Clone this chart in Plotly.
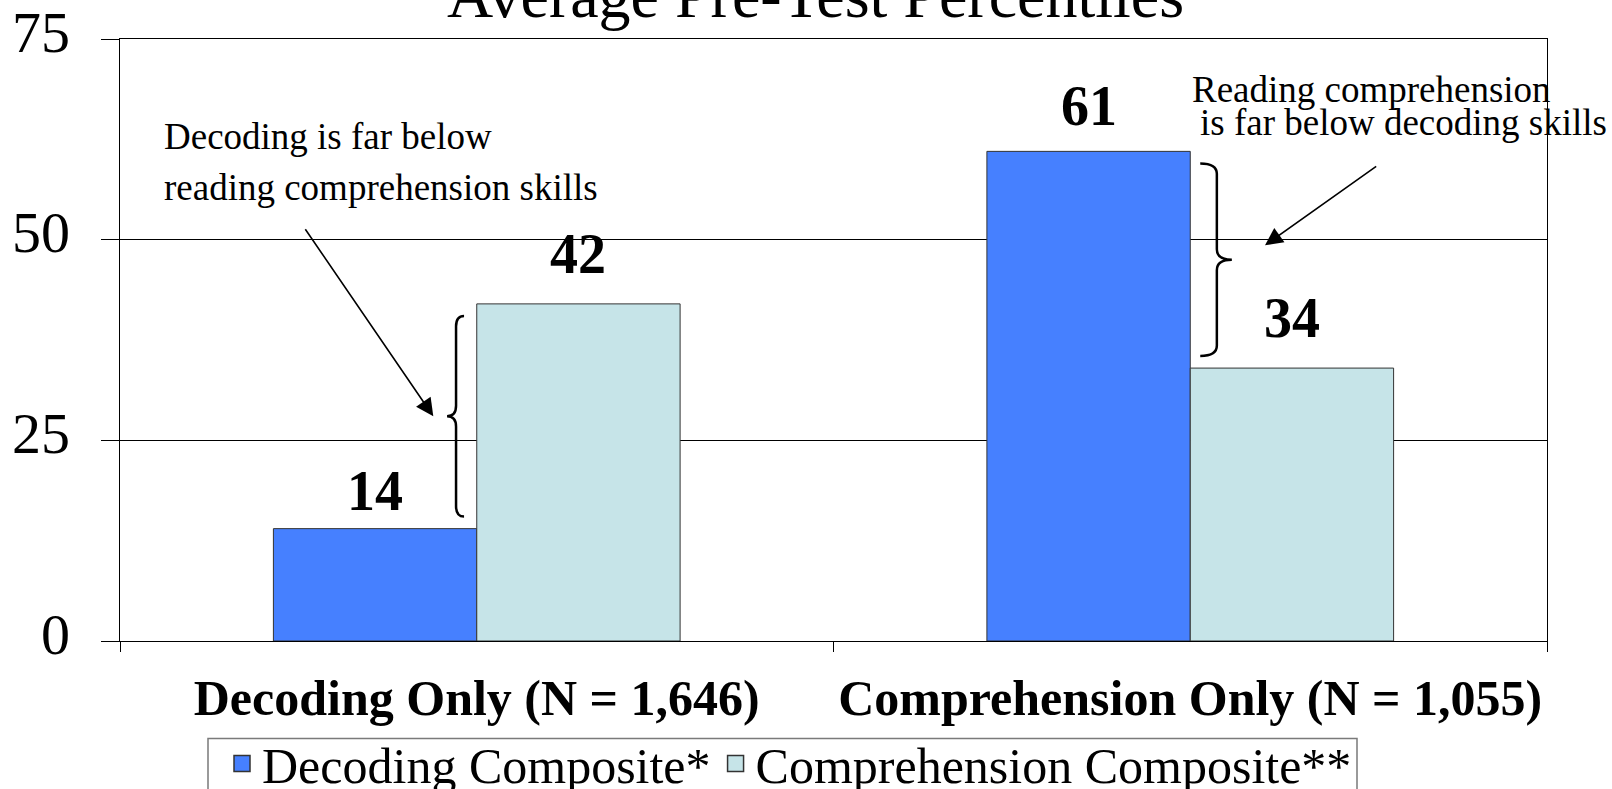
import plotly.graph_objects as go

# ---- data ----
categories = ["Decoding Only (N = 1,646)", "Comprehension Only (N = 1,055)"]
decoding_composite = [14, 61]
comprehension_composite = [42, 34]
series_names = ["Decoding Composite*", "Comprehension Composite**"]
y_ticks = [0, 25, 50, 75]

# ---- styling ----
SERIF = "Times New Roman, Liberation Serif, serif"
BLUE = "#4680FF"
CYAN = "#C6E4E8"
OUTLINE = "#333333"
W, H = 1612, 789
M_L, M_R, M_T, M_B = 120, 65, 39, 147.5
BARGAP = 0.43
Y_MAX = 75

plot_w = W - M_L - M_R
plot_h = H - M_T - M_B
px_per_unit = plot_h / Y_MAX
half = (1 - BARGAP) / 4          # offset of each bar centre from its category centre


def px_to_paper(px):
    return (px - M_L) / plot_w


def py_to_paper(py):
    return (H - M_B - py) / plot_h


fig = go.Figure()
for vals, name, color in [(decoding_composite, series_names[0], BLUE),
                          (comprehension_composite, series_names[1], CYAN)]:
    fig.add_trace(go.Bar(
        x=categories, y=vals, name=name, legendgroup=name, showlegend=False,
        marker=dict(color=color, line=dict(color=OUTLINE, width=1)),
    ))
    # legend swatch (larger square than the default bar icon)
    fig.add_trace(go.Scatter(
        x=[None], y=[None], mode="markers", name=name, legendgroup=name,
        marker=dict(symbol="square", size=18, color=color,
                    line=dict(color=OUTLINE, width=1.5)),
    ))

annotations = []

# y-axis tick labels, sitting slightly above their gridlines
for t in y_ticks:
    annotations.append(dict(
        x=px_to_paper(72), y=t, xref="paper", yref="y",
        text=str(t), showarrow=False,
        font=dict(family=SERIF, size=58, color="black"),
        xanchor="right", yanchor="middle", yshift=7,
    ))

# value labels above each bar
label_lift = [[38, 45], [50, 50]]   # pixels above bar top, per series / category
for s, (vals, sign) in enumerate([(decoding_composite, -1), (comprehension_composite, 1)]):
    for i, v in enumerate(vals):
        annotations.append(dict(
            x=i + sign * half, y=v, xref="x", yref="y",
            text=f"<b>{v}</b>", showarrow=False,
            font=dict(family=SERIF, size=56, color="black"),
            xanchor="center", yanchor="middle", yshift=label_lift[s][i],
        ))

# chart title (partly above the page top)
annotations.append(dict(
    x=px_to_paper(815.7), y=1.0727, xref="paper", yref="paper",
    text="Average Pre-Test Percentiles", showarrow=False,
    font=dict(family=SERIF, size=64, color="black"),
    xanchor="center", yanchor="middle",
))

# explanatory notes
notes = [
    ("Decoding is far below", 162.0, 136.7),
    ("reading comprehension skills", 162.0, 188.0),
    ("Reading comprehension", 1189.5, 89.4),
    ("is far below decoding skills", 1197.6, 122.3),
]
for text, px, py in notes:
    annotations.append(dict(
        x=px_to_paper(px), y=(H - M_B - py) / px_per_unit, xref="paper", yref="y",
        text=text, showarrow=False,
        font=dict(family=SERIF, size=37, color="black"),
        xanchor="left", yanchor="middle",
    ))

# arrows pointing at the braces
gap_left = (comprehension_composite[0] + decoding_composite[0]) / 2
gap_right = (decoding_composite[1] + comprehension_composite[1]) / 2
arrows = [
    # head x (px), head y (value), tail dx, tail dy (px)
    (433.3, gap_left, -129, -188.5),
    (1265.0, gap_right + 1.8, 112.7, -80),
]
for hx, hy, dx, dy in arrows:
    annotations.append(dict(
        x=px_to_paper(hx), y=hy, xref="paper", yref="y",
        ax=dx, ay=dy, text="", showarrow=True,
        arrowhead=2, arrowsize=2.2, arrowwidth=1.6, arrowcolor="black",
        standoff=0,
    ))


def brace(edge_px, lo, hi, direction, end_off, body_off, tip_off, curl=1.3):
    """curly brace between two values; direction -1 points left, +1 right"""
    xe = px_to_paper(edge_px + direction * end_off)
    xb = px_to_paper(edge_px + direction * body_off)
    xt = px_to_paper(edge_px + direction * tip_off)
    ym = (lo + hi) / 2
    return (
        f"M{xe},{hi} Q{xb},{hi} {xb},{hi - curl} "
        f"L{xb},{ym + curl} Q{xb},{ym} {xt},{ym} "
        f"Q{xb},{ym} {xb},{ym - curl} "
        f"L{xb},{lo + curl} Q{xb},{lo} {xe},{lo}"
    )


inset = 1.5
left_edge = M_L + 0.5 * plot_w / 2    # centre of first group (bar boundary)
right_edge = M_L + 1.5 * plot_w / 2   # centre of second group
shapes = [
    dict(type="path", xref="paper", yref="y",
         path=brace(left_edge, decoding_composite[0] + inset,
                    comprehension_composite[0] - inset, -1, 12.7, 20.7, 29.7),
         line=dict(color="black", width=2.5)),
    dict(type="path", xref="paper", yref="y",
         path=brace(right_edge, comprehension_composite[1] + inset,
                    decoding_composite[1] - inset, 1, 10, 26.6, 41.6),
         line=dict(color="black", width=2.5)),
    # legend frame
    dict(type="rect", xref="paper", yref="paper",
         x0=px_to_paper(208), x1=px_to_paper(1357),
         y0=py_to_paper(739), y1=py_to_paper(805),
         line=dict(color="#7a7a7a", width=1.5), fillcolor="rgba(0,0,0,0)"),
]

fig.update_layout(
    width=W, height=H,
    margin=dict(l=M_L, r=M_R, t=M_T, b=M_B, pad=0, autoexpand=False),
    paper_bgcolor="white", plot_bgcolor="white",
    barmode="group", bargap=BARGAP, bargroupgap=0,
    font=dict(family=SERIF, color="black"),
    showlegend=True,
    legend=dict(
        orientation="h", x=px_to_paper(222), y=py_to_paper(725),
        xanchor="left", yanchor="top",
        font=dict(family=SERIF, size=50, color="black"),
        borderwidth=0, bgcolor="rgba(0,0,0,0)",
        itemwidth=30, tracegroupgap=0, itemsizing="trace",
    ),
    annotations=annotations,
    shapes=shapes,
)

fig.update_xaxes(
    type="category", tickson="boundaries", tickangle=0, automargin=False,
    ticks="outside", ticklen=10, tickcolor="black", tickwidth=1,
    showline=True, linecolor="black", linewidth=1, mirror=True,
    showgrid=False, zeroline=False,
    tickfont=dict(family=SERIF, size=50, color="black", weight="bold"),
    ticklabelstandoff=13,
)
fig.update_yaxes(
    range=[0, Y_MAX], tickvals=y_ticks, showticklabels=False,
    automargin=False,
    ticks="outside", ticklen=18, tickcolor="black", tickwidth=1,
    showline=True, linecolor="black", linewidth=1, mirror=True,
    showgrid=True, gridcolor="black", gridwidth=1, zeroline=False,
)

fig.write_html("out.html")
